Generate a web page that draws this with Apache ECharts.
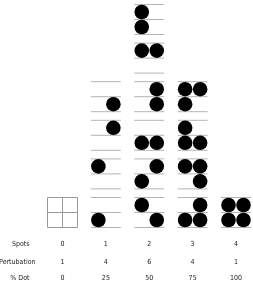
<!DOCTYPE html>
<html>
<head>
    <meta charset="utf-8">
    <title>Spots</title>
    <script src="https://cdn.jsdelivr.net/npm/echarts@6/dist/echarts.min.js"></script>
    <style>
        html, body { margin: 0; padding: 0; background: #fff; }
        #chart { width: 253px; height: 286px; }
    </style>
</head>
<body>
    <div id="chart"></div>
    <script>
        // tick labels of the three bottom rows
        var spots = [0, 1, 2, 3, 4];
        var pertubation = [1, 4, 6, 4, 1];
        var pctDot = [0, 25, 50, 75, 100];

        // cells of each column, bottom row first; quadrants TL TR BL BR
        var col0 = ['0000'];
        var col1 = ['0010', '1000', '0100', '0001'];
        var col2 = ['1001', '0110', '0011', '0101', '1100', '1010'];
        var col3 = ['0111', '1101', '1011', '1110'];
        var col4 = ['1111'];
        var columns = [col0, col1, col2, col3, col4];

        var cells = [];
        columns.forEach(function (col, i) {
            col.forEach(function (pat, r) {
                cells.push([i, r, pat]);
            });
        });

        var HALF = 15;
        var R = 7.3;
        var QUAD = [[-7.5, -7.5], [7.5, -7.5], [-7.5, 7.5], [7.5, 7.5]];

        function renderCell(params, api) {
            var c = api.coord([api.value(0), api.value(1)]);
            var pat = cells[params.dataIndex][2];
            var x0 = c[0] - HALF, x1 = c[0] + HALF;
            var children = [];
            if (pat === '0000') {
                // empty grid: box with a cross
                var st = { stroke: '#9a9a9a', lineWidth: 1, fill: null };
                children.push({ type: 'rect', shape: { x: x0, y: c[1] - HALF, width: 2 * HALF, height: 2 * HALF }, style: st });
                children.push({ type: 'line', shape: { x1: c[0], y1: c[1] - HALF, x2: c[0], y2: c[1] + HALF }, style: st });
                children.push({ type: 'line', shape: { x1: x0, y1: c[1], x2: x1, y2: c[1] }, style: st });
            } else {
                [-HALF, 0, HALF].forEach(function (dy) {
                    children.push({
                        type: 'line',
                        shape: { x1: x0, y1: c[1] + dy, x2: x1, y2: c[1] + dy },
                        style: { stroke: '#b4b4b4', lineWidth: 1 }
                    });
                });
                for (var q = 0; q < 4; q++) {
                    if (pat.charAt(q) === '1') {
                        children.push({
                            type: 'circle',
                            shape: { cx: c[0] + QUAD[q][0], cy: c[1] + QUAD[q][1], r: R },
                            style: { fill: '#000' }
                        });
                    }
                }
            }
            return { type: 'group', children: children };
        }

        var labelFont = {
            fontFamily: '"Liberation Sans Narrow", "DejaVu Sans Condensed", sans-serif',
            fontSize: 7,
            color: '#222'
        };

        function bottomAxis(name, data, offset, gap) {
            return {
                type: 'category',
                gridIndex: 0,
                position: 'bottom',
                offset: offset,
                boundaryGap: false,
                data: data,
                name: name,
                nameLocation: 'start',
                nameGap: gap,
                nameTextStyle: labelFont,
                axisLine: { show: false, onZero: false },
                axisTick: { show: false },
                splitLine: { show: false },
                axisLabel: Object.assign({ margin: 0, verticalAlign: 'middle', interval: 0 }, labelFont)
            };
        }

        var chart = echarts.init(document.getElementById('chart'));
        chart.setOption({
            animation: false,
            grid: { left: 62.5, right: 17, top: 19.5, bottom: 73.5, containLabel: false, outerBoundsMode: 'none' },
            xAxis: [
                bottomAxis('Spots', spots, 31.5, 33),
                bottomAxis('Pertubation', pertubation, 49.5, 27),
                bottomAxis('% Dot', pctDot, 65.5, 33)
            ],
            yAxis: { type: 'value', min: 0, max: 5, show: false },
            series: [{
                type: 'custom',
                xAxisIndex: 0,
                renderItem: renderCell,
                encode: { x: 0, y: 1 },
                clip: false,
                data: cells
            }]
        });
    </script>
</body>
</html>
